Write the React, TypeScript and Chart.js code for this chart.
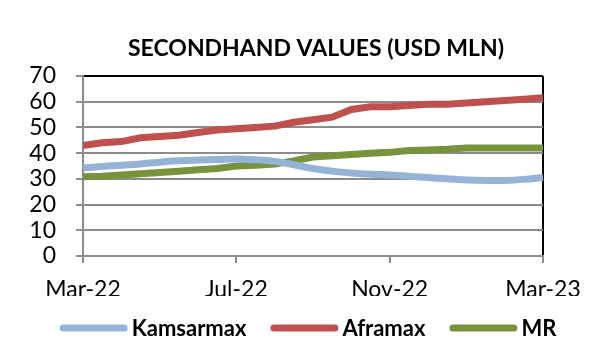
import React, { useEffect, useRef } from "react";
import { Chart, registerables } from "chart.js";

Chart.register(...registerables);

const TITLE = "SECONDHAND VALUES (USD MLN)";

// semi-monthly observations, Mar-22 .. Mar-23
const dates = [
  "2022-03-01", "2022-03-15", "2022-04-01", "2022-04-15", "2022-05-01",
  "2022-05-15", "2022-06-01", "2022-06-15", "2022-07-01", "2022-07-15",
  "2022-08-01", "2022-08-15", "2022-09-01", "2022-09-15", "2022-10-01",
  "2022-10-15", "2022-11-01", "2022-11-15", "2022-12-01", "2022-12-15",
  "2023-01-01", "2023-01-15", "2023-02-01", "2023-02-15", "2023-03-01",
];

const tickLabels: Record<string, string> = {
  "2022-03-01": "Mar-22",
  "2022-07-01": "Jul-22",
  "2022-11-01": "Nov-22",
  "2023-03-01": "Mar-23",
};

const kamsarmax = [
  34.2, 34.8, 35.3, 35.8, 36.5, 37.0, 37.3, 37.5, 37.7, 37.4,
  36.8, 35.5, 34.0, 33.0, 32.3, 31.8, 31.5, 31.0, 30.5, 30.0,
  29.6, 29.4, 29.4, 29.8, 30.5,
];

const aframax = [
  43.0, 44.0, 44.5, 46.0, 46.5, 47.0, 48.0, 49.0, 49.5, 50.0,
  50.5, 52.0, 53.0, 54.0, 57.0, 58.0, 58.0, 58.5, 59.0, 59.0,
  59.5, 60.0, 60.5, 61.0, 61.5,
];

const mr = [
  30.8, 31.0, 31.5, 32.0, 32.5, 33.0, 33.5, 34.0, 35.0, 35.3,
  35.8, 37.0, 38.5, 39.0, 39.5, 40.0, 40.3, 41.0, 41.2, 41.5,
  42.0, 42.0, 42.0, 42.0, 42.0,
];

const seriesNames = ["Kamsarmax", "Aframax", "MR"];
const seriesColors = ["#95B3D7", "#C0504D", "#77933C"];

const FONT = "Lato, 'Open Sans', sans-serif";

const titleLegendPlugin = {
  id: "titleLegend",
  afterDraw(chart: any) {
    const ctx = chart.ctx;
    ctx.save();
    ctx.fillStyle = "#000";
    ctx.textBaseline = "middle";
    ctx.textAlign = "center";
    ctx.font = `bold 23px ${FONT}`;
    ctx.fillText(TITLE, 316, 49);

    // legend
    ctx.font = `bold 22px ${FONT}`;
    const lineLen = 68;
    const gapText = 4;
    const gapItem = 24;
    const items = chart.data.datasets.map((d: any) => ({
      label: d.label,
      color: d.borderColor,
      w: ctx.measureText(d.label).width,
    }));
    const total =
      items.reduce((s: number, it: any) => s + lineLen + gapText + it.w, 0) +
      gapItem * (items.length - 1);
    let x = 308 - total / 2;
    const y = 328;
    ctx.textAlign = "left";
    items.forEach((it: any) => {
      ctx.strokeStyle = it.color;
      ctx.lineWidth = 7;
      ctx.lineCap = "round";
      ctx.beginPath();
      ctx.moveTo(x + 3.5, y);
      ctx.lineTo(x + lineLen - 3.5, y);
      ctx.stroke();
      x += lineLen + gapText;
      ctx.fillStyle = "#000";
      ctx.fillText(it.label, x, y + 1);
      x += it.w + gapItem;
    });
    ctx.restore();
  },
};

export default function App() {
  const ref = useRef<HTMLCanvasElement>(null);

  useEffect(() => {
    if (!ref.current) return;
    Chart.defaults.font.family = FONT;
    const series = [kamsarmax, aframax, mr];
    const chart = new Chart(ref.current, {
      type: "line",
      data: {
        labels: dates,
        datasets: series.map((s, i) => ({
          label: seriesNames[i],
          data: s,
          borderColor: seriesColors[i],
          backgroundColor: seriesColors[i],
          borderWidth: 7,
          pointRadius: 0,
          tension: i === 0 ? 0.4 : 0,
          borderCapStyle: "butt",
        })),
      },
      options: {
        animation: false,
        responsive: false,
        devicePixelRatio: 1,
        layout: { padding: { left: 0, right: 57, top: 76, bottom: 60 } },
        plugins: {
          legend: { display: false },
          title: { display: false },
          tooltip: { enabled: false },
        },
        scales: {
          x: {
            type: "category",
            offset: false,
            afterFit: (s: any) => {
              s.height = 40;
            },
            border: { display: true, color: "#8C8C8C", width: 2 },
            grid: {
              drawOnChartArea: true,
              color: (c: any) =>
                c.index === dates.length - 1 ? "#000" : "rgba(0,0,0,0)",
              lineWidth: 2,
              tickColor: (c: any) =>
                tickLabels[dates[c.index]] ? "#8C8C8C" : "rgba(0,0,0,0)",
              tickLength: 7,
            },
            ticks: {
              autoSkip: false,
              maxRotation: 0,
              color: "#000",
              padding: 13,
              font: { size: 23 },
              callback: (_v: any, i: number) => tickLabels[dates[i]] || "",
            },
          },
          y: {
            min: 0,
            max: 70,
            afterFit: (s: any) => {
              s.width = 83;
            },
            border: { display: true, color: "#8C8C8C", width: 2 },
            grid: {
              color: (c: any) => (c.tick && c.tick.value === 70 ? "#000" : "#8C8C8C"),
              lineWidth: 2,
              tickColor: "#8C8C8C",
              tickLength: 7,
            },
            ticks: {
              stepSize: 10,
              autoSkip: false,
              color: "#000",
              padding: 20,
              font: { size: 23 },
            },
          },
        },
      },
      plugins: [titleLegendPlugin],
    } as any);
    return () => chart.destroy();
  }, []);

  return (
    <div style={{ position: "absolute", left: 0, top: 0, width: 600, height: 356, background: "#fff" }}>
      <canvas ref={ref} width={600} height={356} />
    </div>
  );
}
